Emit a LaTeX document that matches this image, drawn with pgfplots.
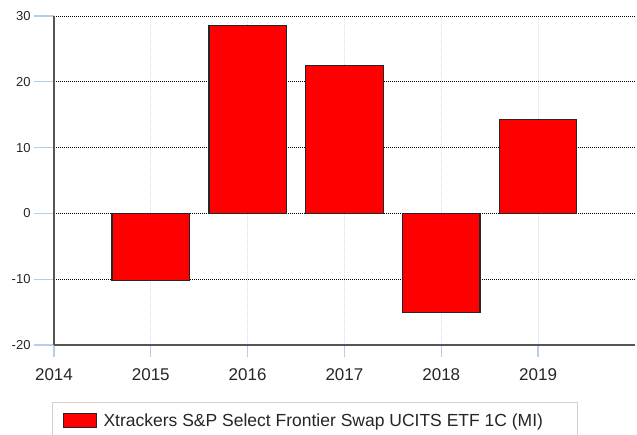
\documentclass[border=0pt]{standalone}
\usepackage{fontspec}
\setmainfont{Liberation Sans}
\usepackage{pgfplots}
\pgfplotsset{compat=1.18}
\definecolor{tickblue}{HTML}{B4CEEE}
\definecolor{gridblue}{HTML}{CCDFF6}
\definecolor{axgray}{HTML}{555555}
\begin{document}
\begin{tikzpicture}
\useasboundingbox (-54pt,-89pt) rectangle (583pt,345pt);
\begin{axis}[
 at={(0pt,0pt)}, anchor=south west,
 scale only axis, width=581pt, height=329pt,
 xmin=2014, xmax=2020, ymin=-20, ymax=30,
 xtick={2014,...,2019}, ytick={-20,-10,...,30},
 axis lines*=left, axis line style={axgray, line width=1.5pt, -},
 tick align=outside, major tick length=20pt,
 tick style={tickblue, line width=1.2pt},
 xtick style={/pgfplots/major tick length=12pt},
 xmajorgrids, ymajorgrids,
 x grid style={gridblue, dash pattern=on 1pt off 1pt, line width=0.9pt},
 y grid style={black, dash pattern=on 1pt off 1pt, line width=0.8pt},
 /pgf/number format/assume math mode=true,
 xticklabel style={font=\fontsize{17}{20}\selectfont, text=black!85, /pgf/number format/1000 sep={}},
 yticklabel style={font=\fontsize{13}{15}\selectfont, text=black!85},
 ybar, bar width=0.8,
 legend style={at={(-0.00344,-0.1733)}, anchor=north west, draw=black!18, line width=1pt, fill=white,
   font=\fontsize{17.5}{21}\selectfont, text=black!85, inner xsep=10pt, inner ysep=9pt,
   /tikz/every odd column/.append style={column sep=5pt}},
 legend cell align=left,
 legend image code/.code={\draw[fill=red, draw=black!85, line width=1pt] (0pt,-7pt) rectangle (33pt,7pt);},
]
\addplot[fill=red, draw=black!85, line width=1.2pt] coordinates {(2015,-10.25) (2016,28.5) (2017,22.45) (2018,-15.1) (2019,14.3)};
\legend{Xtrackers S\&P Select Frontier Swap UCITS ETF 1C (MI)\rule{22pt}{0pt}}
\end{axis}
\end{tikzpicture}
\end{document}
